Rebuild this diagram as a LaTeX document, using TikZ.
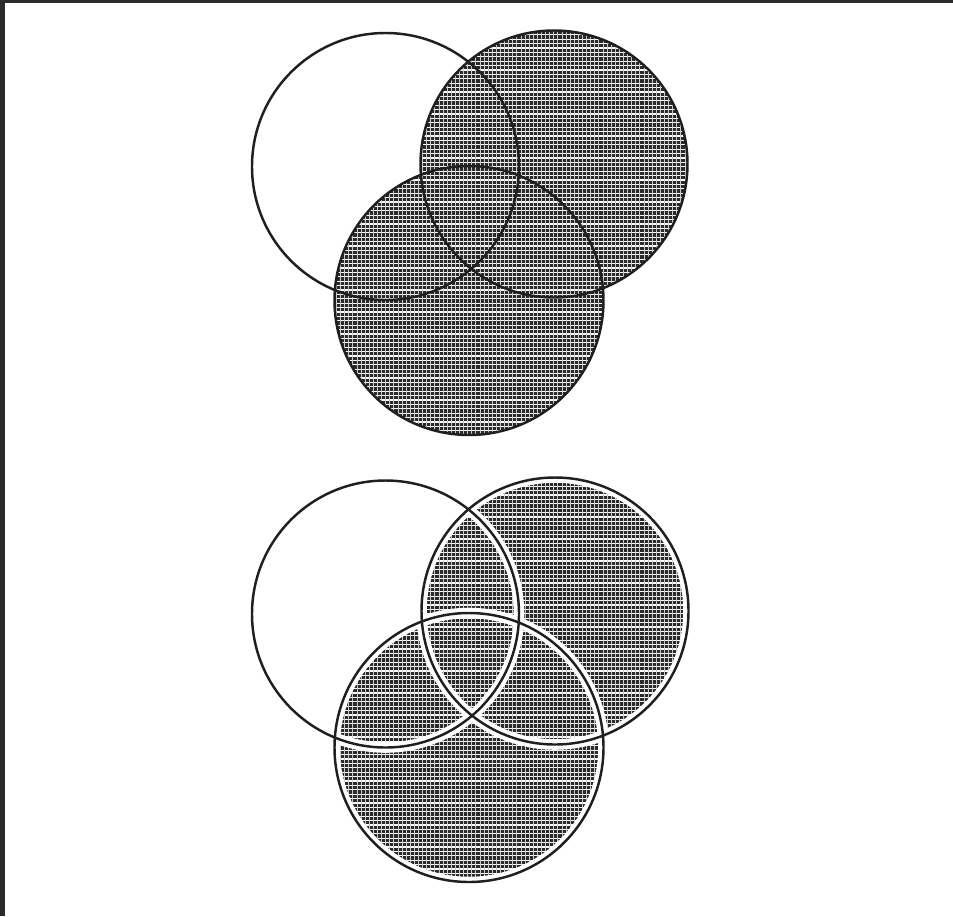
\documentclass[tikz,border=0pt]{standalone}
\definecolor{bordc}{HTML}{2B2B2B}
\definecolor{hatchbg}{HTML}{2A2A2A}
\tikzset{
  ring/.style={draw=black!88, line width=2.1pt},
  halo/.style={draw=white, line width=9pt},
  hline/.style={draw=white, line width=1.0pt},
  vline/.style={draw=white!80!black, line width=0.6pt},
}
\newcommand\hatcharea[2]{%
  \fill[hatchbg] (320,#1) rectangle (700,#2);
  \foreach \i in {0,...,95} {\draw[hline] (320,#1+1+\i*4.4) -- (700,#1+1+\i*4.4);}
  \foreach \i in {0,...,95} {\draw[vline] (320+\i*4.1,#1) -- (320+\i*4.1,#2);}
}
\begin{document}
\begin{tikzpicture}[x=0.03cm,y=-0.03cm]
\useasboundingbox (0,0) rectangle (953,916);
\fill[white] (0,0) rectangle (953,916);
\fill[bordc] (0,0) rectangle (5,916);
\fill[bordc] (0,0) rectangle (953,3);
% top diagram
\coordinate (A1) at (385.5,166.5);
\coordinate (B1) at (554,164);
\coordinate (C1) at (469,300.5);
\begin{scope}
  \clip (B1) circle (133.5);
  \hatcharea{25}{440}
\end{scope}
\begin{scope}
  \clip (C1) circle (134.5);
  \hatcharea{25}{440}
\end{scope}
\draw[ring] (A1) circle (133.5);
\draw[ring] (B1) circle (133.5);
\draw[ring] (C1) circle (134.5);
% bottom diagram
\coordinate (A2) at (385.5,614);
\coordinate (B2) at (555,611);
\coordinate (C2) at (469,747.5);
\begin{scope}
  \clip (B2) circle (133.5);
  \hatcharea{472}{888}
\end{scope}
\begin{scope}
  \clip (C2) circle (134.5);
  \hatcharea{472}{888}
\end{scope}
\draw[halo] (A2) circle (133.5);
\draw[halo] (B2) circle (133.5);
\draw[halo] (C2) circle (134.5);
\draw[ring] (A2) circle (133.5);
\draw[ring] (B2) circle (133.5);
\draw[ring] (C2) circle (134.5);
\end{tikzpicture}
\end{document}
